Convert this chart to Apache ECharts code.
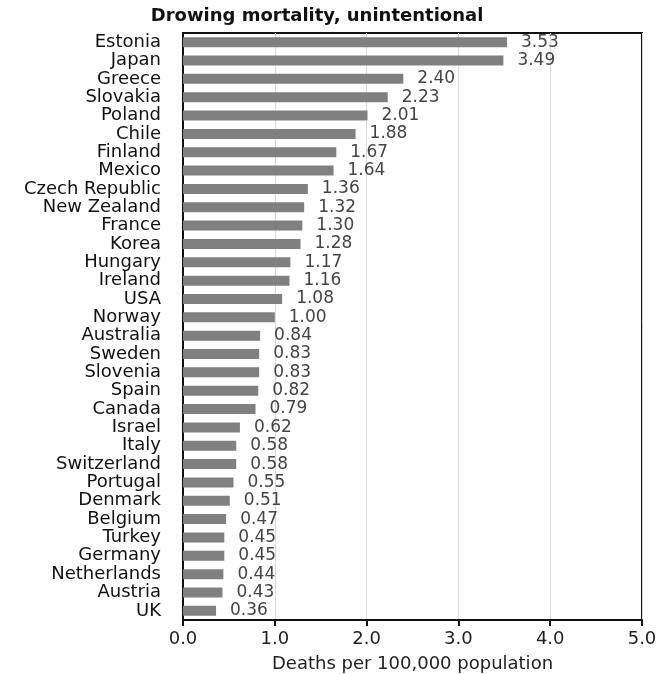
<!DOCTYPE html>
<html><head><meta charset="utf-8">
<script src="https://cdn.jsdelivr.net/npm/echarts@6/dist/echarts.min.js"></script>
<style>html,body{margin:0;padding:0;background:#fff}#c{width:671px;height:674px}</style>
</head><body><div id="c"></div>
<script>
const countries = ["Estonia","Japan","Greece","Slovakia","Poland","Chile","Finland","Mexico","Czech Republic","New Zealand","France","Korea","Hungary","Ireland","USA","Norway","Australia","Sweden","Slovenia","Spain","Canada","Israel","Italy","Switzerland","Portugal","Denmark","Belgium","Turkey","Germany","Netherlands","Austria","UK"];
const deaths = [3.53,3.49,2.40,2.23,2.01,1.88,1.67,1.64,1.36,1.32,1.30,1.28,1.17,1.16,1.08,1.00,0.84,0.83,0.83,0.82,0.79,0.62,0.58,0.58,0.55,0.51,0.47,0.45,0.45,0.44,0.43,0.36];
const titleText = "Drowing mortality, unintentional";
const xName = "Deaths per 100,000 population";

const chart = echarts.init(document.getElementById('c'), null, {renderer:'canvas'});
const font = "DejaVu Sans";
chart.setOption({
  animation:false,
  backgroundColor:'#fff',
  title:{text:titleText,left:312,textAlign:'center',top:2,textStyle:{fontFamily:font,fontWeight:'bold',fontSize:18,color:'#111'}},
  grid:{left:183,right:29,top:33,bottom:54,show:true,borderColor:'#111',borderWidth:2,containLabel:false,outerBoundsMode:'none'},
  xAxis:{type:'value',min:0,max:5,interval:1,
    name:xName,nameLocation:'middle',nameGap:35,
    nameTextStyle:{fontFamily:font,fontSize:18,color:'#222'},
    axisLine:{show:true,lineStyle:{color:'#111',width:2}},
    axisTick:{show:true,inside:false,length:6,lineStyle:{color:'#111',width:2}},
    axisLabel:{formatter:v=>v.toFixed(1),fontFamily:font,fontSize:18,color:'#222',margin:10},
    splitLine:{show:true,lineStyle:{color:'#d9d9d9',width:1}}},
  yAxis:{type:'category',data:countries,inverse:true,
    axisLine:{show:true,lineStyle:{color:'#111',width:2}},
    axisTick:{show:false},
    axisLabel:{interval:0,fontFamily:font,fontSize:18,color:'#111',margin:22}},
  series:[{type:'bar',data:deaths,barWidth:10,itemStyle:{color:'#808080'},
    label:{show:true,position:'right',distance:14,formatter:p=>p.value.toFixed(2),fontFamily:font,fontSize:17,color:'#444'}}]
});
</script></body></html>
